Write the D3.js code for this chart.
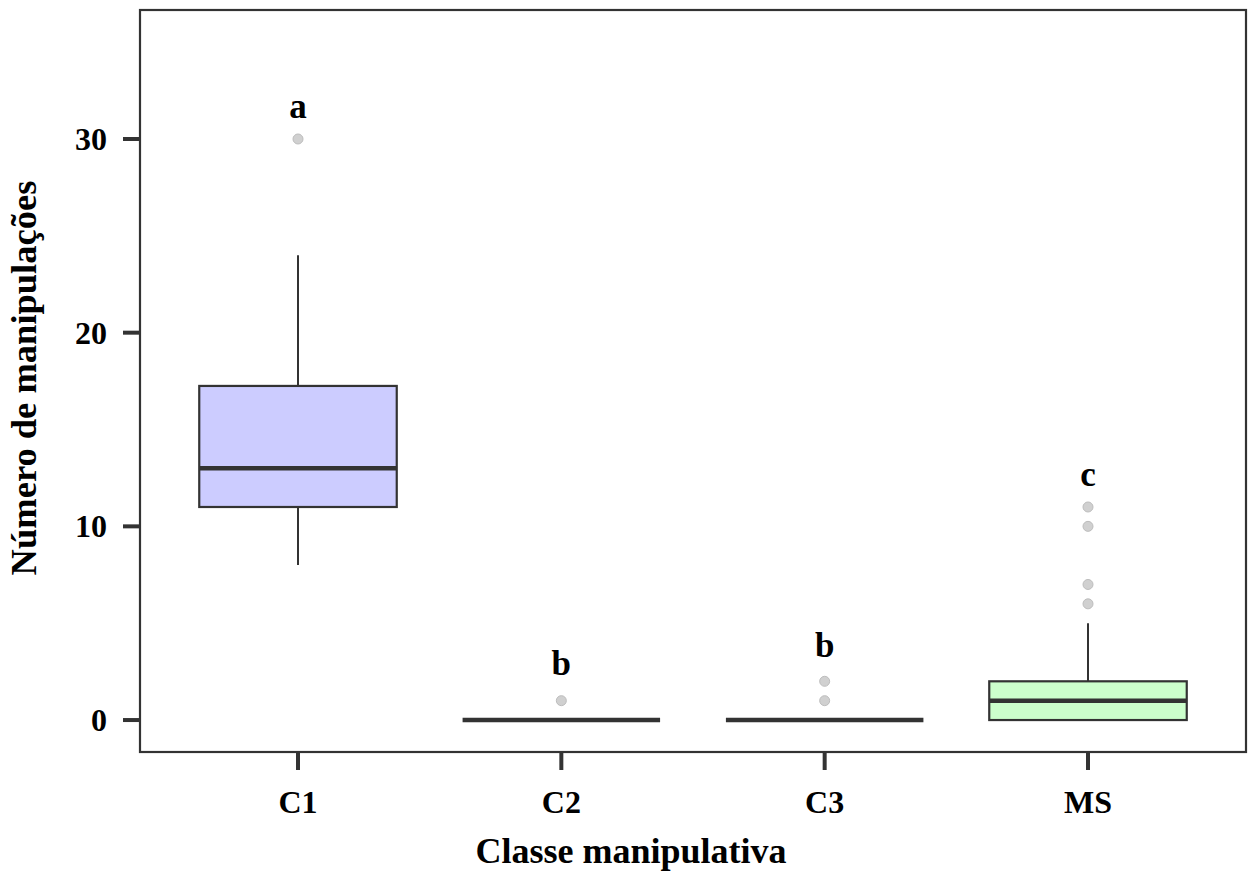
<!DOCTYPE html>
<html>
<head>
<meta charset="utf-8">
<script src="https://cdn.jsdelivr.net/npm/d3@7"></script>
<style>
  html, body { margin: 0; padding: 0; background: #fff; }
  svg { display: block; }
</style>
</head>
<body>
<svg id="chart" width="1249" height="874"></svg>
<script>
// ---- data ----
const categories = ["C1", "C2", "C3", "MS"];
const whiskerLow = [8, 0, 0, 0];
const q1 = [11, 0, 0, 0];
const median = [13, 0, 0, 1];
const q3 = [17.25, 0, 0, 2];
const whiskerHigh = [24, 0, 0, 5];
const outliers = [[30], [1], [1, 2], [6, 7, 10, 11]];
const letters = ["a", "b", "b", "c"];
const letterY = [31.1, 2.3, 3.25, 12.1];
const fills = ["#CCCCFF", "#FFFFFF", "#FFFFFF", "#CCFFCC"];
const yTicks = [0, 10, 20, 30];
const yTitle = "Número de manipulações";
const xTitle = "Classe manipulativa";

// ---- layout ----
const panel = { left: 140, right: 1246, top: 10, bottom: 752 };
const font = "'Liberation Serif', 'Times New Roman', serif";
const dark = "#333333";

const svg = d3.select("#chart");

// ggplot-like discrete scale: centers at step*(i+0.6); box width 0.75*step
const x = d3.scalePoint()
  .domain(categories)
  .range([panel.left, panel.right])
  .padding(0.6 / (1 + 0) * 1); // placeholder, overridden below
const step = (panel.right - panel.left) / 4.2;
x.range([panel.left + 0.6 * step, panel.right - 0.6 * step]).padding(0);
const cx = c => x(c);
const boxW = step * 0.75;

const y = d3.scaleLinear().domain([-1.65, 36.66]).range([panel.bottom, panel.top]);

const data = categories.map((c, i) => ({
  c, lo: whiskerLow[i], q1: q1[i], med: median[i], q3: q3[i], hi: whiskerHigh[i],
  out: outliers[i], letter: letters[i], ly: letterY[i], fill: fills[i]
}));

const g = svg.append("g");

// whiskers
g.selectAll(".wh-up").data(data).join("line")
  .attr("x1", d => cx(d.c)).attr("x2", d => cx(d.c))
  .attr("y1", d => y(d.q3)).attr("y2", d => y(d.hi))
  .attr("stroke", dark).attr("stroke-width", 2);
g.selectAll(".wh-lo").data(data).join("line")
  .attr("x1", d => cx(d.c)).attr("x2", d => cx(d.c))
  .attr("y1", d => y(d.q1)).attr("y2", d => y(d.lo))
  .attr("stroke", dark).attr("stroke-width", 2);

// boxes
g.selectAll(".box").data(data).join("rect")
  .attr("x", d => cx(d.c) - boxW / 2)
  .attr("width", boxW)
  .attr("y", d => y(d.q3))
  .attr("height", d => Math.max(0, y(d.q1) - y(d.q3)))
  .attr("fill", d => d.fill)
  .attr("stroke", dark).attr("stroke-width", 2.2);

// medians
g.selectAll(".med").data(data).join("line")
  .attr("x1", d => cx(d.c) - boxW / 2).attr("x2", d => cx(d.c) + boxW / 2)
  .attr("y1", d => y(d.med)).attr("y2", d => y(d.med))
  .attr("stroke", dark).attr("stroke-width", 4.5)
  .attr("stroke-linecap", "butt");

// outliers
const outPts = data.flatMap(d => d.out.map(v => ({ c: d.c, v })));
g.selectAll(".out").data(outPts).join("circle")
  .attr("cx", d => cx(d.c)).attr("cy", d => y(d.v)).attr("r", 5)
  .attr("fill", "#d0d0d0").attr("stroke", "#bdbdbd").attr("stroke-width", 1);

// letters
g.selectAll(".letter").data(data).join("text")
  .attr("x", d => cx(d.c)).attr("y", d => y(d.ly))
  .attr("text-anchor", "middle")
  .attr("font-family", font).attr("font-weight", "bold").attr("font-size", 35)
  .attr("fill", "#000")
  .text(d => d.letter);

// panel border
svg.append("rect")
  .attr("x", panel.left).attr("y", panel.top)
  .attr("width", panel.right - panel.left).attr("height", panel.bottom - panel.top)
  .attr("fill", "none").attr("stroke", dark).attr("stroke-width", 2.2);

// y axis ticks
const yAx = svg.append("g");
yAx.selectAll("line").data(yTicks).join("line")
  .attr("x1", panel.left - 17).attr("x2", panel.left)
  .attr("y1", d => y(d)).attr("y2", d => y(d))
  .attr("stroke", dark).attr("stroke-width", 4);
yAx.selectAll("text").data(yTicks).join("text")
  .attr("x", 107).attr("y", d => y(d)).attr("dy", "0.34em")
  .attr("text-anchor", "end")
  .attr("font-family", font).attr("font-weight", "bold").attr("font-size", 32)
  .attr("fill", "#000")
  .text(d => d);

// x axis ticks
const xAx = svg.append("g");
xAx.selectAll("line").data(categories).join("line")
  .attr("x1", d => cx(d)).attr("x2", d => cx(d))
  .attr("y1", panel.bottom).attr("y2", panel.bottom + 18)
  .attr("stroke", dark).attr("stroke-width", 4);
xAx.selectAll("text").data(categories).join("text")
  .attr("x", d => cx(d)).attr("y", 813)
  .attr("text-anchor", "middle")
  .attr("font-family", font).attr("font-weight", "bold").attr("font-size", 32)
  .attr("fill", "#000")
  .text(d => d);

// axis titles
svg.append("text")
  .attr("x", 631).attr("y", 863)
  .attr("text-anchor", "middle")
  .attr("font-family", font).attr("font-weight", "bold").attr("font-size", 36)
  .attr("fill", "#000")
  .text(xTitle);
svg.append("text")
  .attr("transform", `translate(36, 378) rotate(-90)`)
  .attr("text-anchor", "middle")
  .attr("font-family", font).attr("font-weight", "bold").attr("font-size", 36.5)
  .attr("fill", "#000")
  .text(yTitle);
</script>
</body>
</html>
